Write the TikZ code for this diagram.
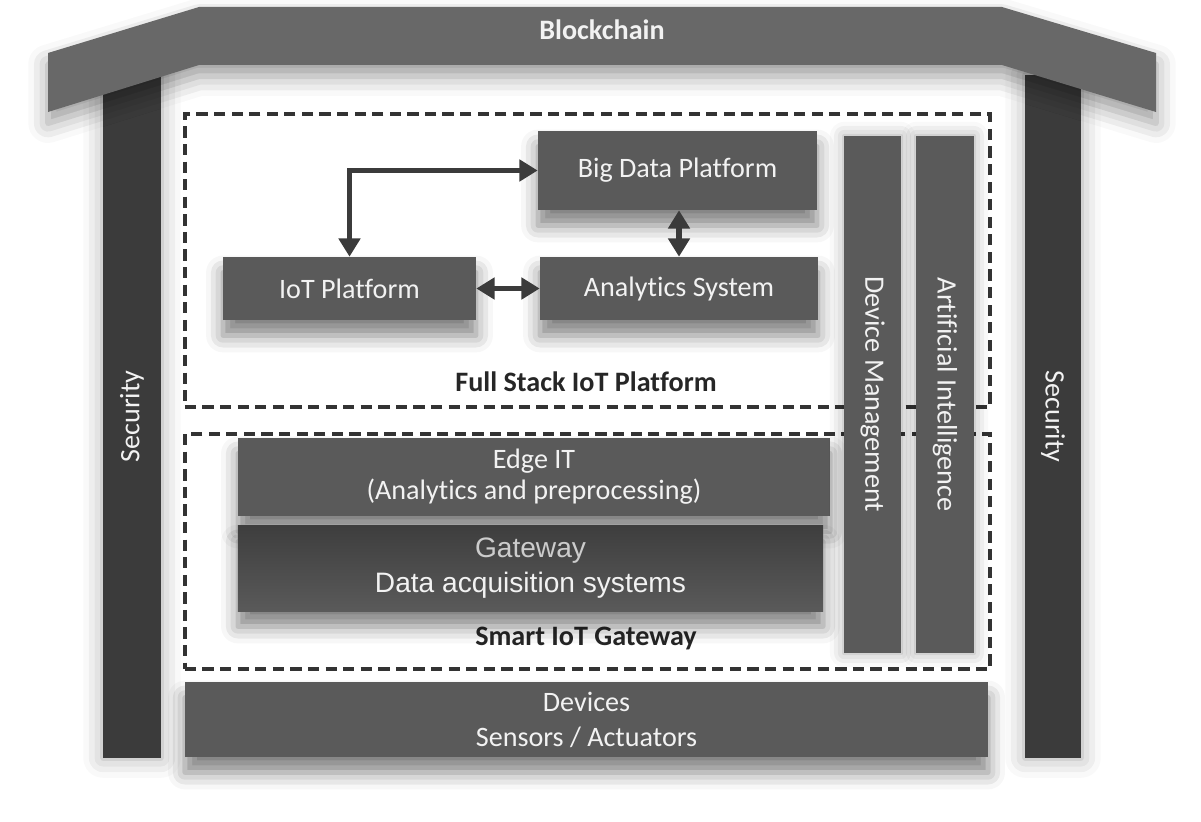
\documentclass[tikz,border=0pt]{standalone}
\usepackage{fontspec}
\setmainfont{Carlito}[Ligatures=NoCommon]
\newfontfamily\arialfont{Liberation Sans}
\usepackage{xcolor}
\usetikzlibrary{arrows.meta, shadows.blur}

\definecolor{roofgray}{HTML}{686868}
\definecolor{pillargray}{HTML}{3B3B3B}
\definecolor{boxgray}{HTML}{5A5A5A}
\definecolor{boxtext}{HTML}{F2F2F2}
\definecolor{zoneline}{HTML}{333333}
\definecolor{labeltext}{HTML}{262626}

\begin{document}
\begin{tikzpicture}[
    x=0.025cm, y=-0.025cm,
    block/.style = {
        rectangle, fill=boxgray, text=boxtext, align=center, inner sep=0pt,
        font=\fontsize{20}{24}\selectfont,
        blur shadow={shadow xshift=0pt, shadow yshift=-11pt, shadow blur radius=12pt, shadow opacity=50}
    },
    pillar/.style = {
        rectangle, fill=pillargray, text=boxtext, inner sep=0pt,
        font=\fontsize{20}{24}\selectfont,
        blur shadow={shadow xshift=0pt, shadow yshift=0pt, shadow blur radius=14pt, shadow opacity=35}
    },
    bar/.style = {
        rectangle, fill=boxgray, text=boxtext, inner sep=0pt, rotate=-90,
        font=\fontsize{20}{24}\selectfont,
        blur shadow={shadow xshift=0pt, shadow yshift=0pt, shadow blur radius=10pt, shadow opacity=35}
    },
    zone/.style = {
        rectangle, draw=zoneline, line width=2.4pt, dash pattern=on 8pt off 4.5pt, inner sep=0pt
    },
    zonelabel/.style = {
        font=\fontsize{20}{24}\selectfont\bfseries, text=labeltext
    },
    arrow/.style = {
        {Triangle[length=13pt, width=15pt]}-{Triangle[length=13pt, width=15pt]},
        line width=4pt, draw=pillargray
    }
]
\useasboundingbox (0,0) rectangle (1201,821);

% ── Security pillars ──
\node[pillar, rotate=90, minimum width=17.075cm, minimum height=1.45cm] (secleft)  at (132,416.5)  {Security};
\node[pillar, rotate=-90, minimum width=17.075cm, minimum height=1.4cm] (secright) at (1053,416.5) {Security};

% ── Roof ──
\fill[roofgray, blur shadow={shadow xshift=0pt, shadow yshift=-8pt, shadow blur radius=14pt, shadow opacity=40}]
    (199,7) -- (1002,7) -- (1156,53) -- (1156,112) -- (1002,65) -- (199,65) -- (48,112) -- (48,53) -- cycle;
\node[zonelabel, text=boxtext] (chain) at (602,30) {Blockchain};

% ── Dashed zones ──
\node[zone, minimum width=20.125cm, minimum height=7.325cm] (fullstack) at (587.5,260.5) {};
\node[zone, minimum width=20.125cm, minimum height=5.875cm] (smartgw)   at (587.5,551.5) {};
\node[zonelabel] (fulllabel) at (586,382) {Full Stack IoT Platform};
\node[zonelabel] (gwlabel)   at (586,638) {Smart IoT Gateway};

% ── Platform blocks ──
\node[block, minimum width=6.975cm, minimum height=1.975cm] (bigdata)   at (677.5,170.5) {Big Data Platform};
\node[block, minimum width=6.325cm, minimum height=1.575cm] (iot)       at (349.5,288.5) {IoT Platform};
\node[block, minimum width=6.95cm,  minimum height=1.575cm] (analytics) at (679,288.5)   {Analytics System};

% ── Gateway blocks ──
\node[block, minimum width=14.8cm, minimum height=1.95cm, font=\fontsize{20}{22}\selectfont] (edge) at (534,477)
    {Edge IT\\(Analytics and preprocessing)};
\node[block, minimum width=14.625cm, minimum height=2.125cm, top color=pillargray!90!boxgray, bottom color=boxgray,
      font=\arialfont\fontsize{20}{25}\selectfont] (gateway) at (530.5,568.5)
    {\textcolor{boxtext!75!boxgray}{Gateway}\\Data acquisition systems};

% ── Devices ──
\node[block, minimum width=20.075cm, minimum height=1.875cm, font=\fontsize{20}{25}\selectfont] (devices) at (586.5,719.5)
    {Devices\\Sensors / Actuators};

% ── Vertical bars ──
\node[bar, minimum width=12.925cm, minimum height=1.425cm] (devmgmt) at (872.5,394.5) {Device Management};
\node[bar, minimum width=12.925cm, minimum height=1.45cm]  (ai)      at (945,394.5)   {Artificial Intelligence};

% ── Arrows ──
\draw[arrow] (iot.north) |- (bigdata.west);
\draw[arrow] (iot.east) -- (analytics.west);
\draw[arrow] (bigdata.south -| analytics.north) -- (analytics.north);

\end{tikzpicture}
\end{document}
